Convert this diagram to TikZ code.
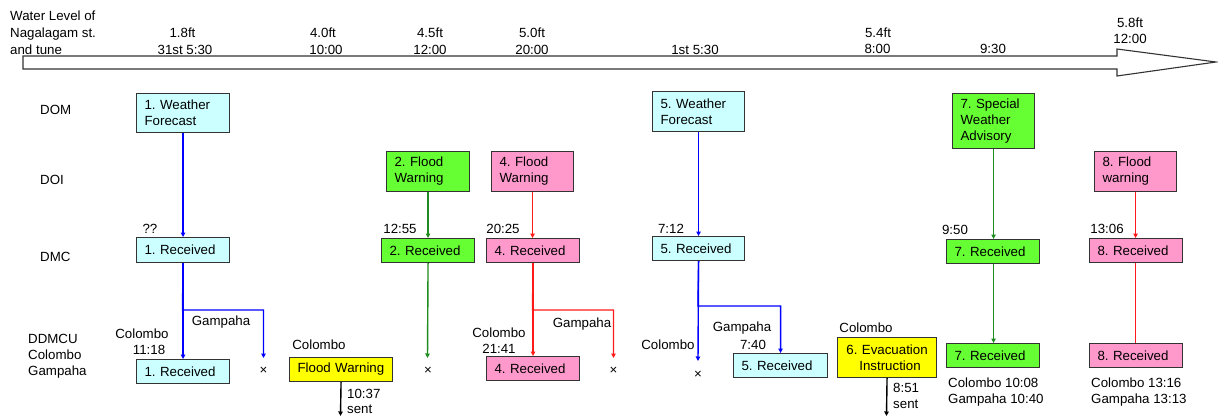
\documentclass[tikz,border=0pt]{standalone}
\usepackage{fontspec}
\setmainfont{Liberation Sans}
\usetikzlibrary{arrows.meta}
\definecolor{cyanbox}{HTML}{CCFFFF}
\definecolor{greenbox}{HTML}{66FF33}
\definecolor{pinkbox}{HTML}{FF99CC}
\definecolor{yellowbox}{HTML}{FFFF00}
\definecolor{lineblue}{HTML}{0000FF}
\definecolor{linegreen}{HTML}{1E8C1E}
\definecolor{linered}{HTML}{FF1A1A}
\definecolor{frame}{HTML}{333333}
\frenchspacing
\begin{document}
\begin{tikzpicture}[x=1pt,y=-1pt,
  every node/.style={font=\fontsize{13.3}{16}\selectfont\frenchspacing, inner sep=0pt},
  lbl/.style={anchor=base},
  lblw/.style={anchor=base west},
  box/.style={draw=frame, line width=1.1pt, anchor=north west,
              inner xsep=8pt, inner ysep=2pt, align=left},
  cy/.style={box, fill=cyanbox},
  gr/.style={box, fill=greenbox},
  pk/.style={box, fill=pinkbox},
  yl/.style={box, fill=yellowbox},
  tip/.style={-{Triangle[length=4.5pt,width=4.5pt]}},
  flow/.style={line width=1.4pt},
  bflow/.style={flow, draw=lineblue, tip},
  gflow/.style={flow, draw=linegreen, tip},
  rflow/.style={flow, draw=linered, tip},
  kflow/.style={flow, draw=black, tip},
  cross/.style={anchor=center},
]
\useasboundingbox (0,0) rectangle (1218,417);

% time axis
\draw[draw=frame, line width=1.1pt, fill=white]
  (23,56) -- (1117,56) -- (1117,49) -- (1216,62) -- (1117,76) -- (1117,69) -- (23,69) -- cycle;

\node[lblw] (h1) at (10,21) {Water Level of};
\node[lblw] (h2) at (10,38) {Nagalagam st.};
\node[lblw] (h3) at (10,55) {and tune};

\node[lbl] (t1a) at (182.5,38) {1.8ft};
\node[lbl] (t1b) at (185,55) {31st 5:30};
\node[lbl] (t2a) at (323,38) {4.0ft};
\node[lbl] (t2b) at (326,55) {10:00};
\node[lbl] (t3a) at (430,38) {4.5ft};
\node[lbl] (t3b) at (430,55) {12:00};
\node[lbl] (t4a) at (532,38) {5.0ft};
\node[lbl] (t4b) at (532,55) {20:00};
\node[lbl] (t5b) at (695,55) {1st 5:30};
\node[lbl] (t6a) at (878,38) {5.4ft};
\node[lbl] (t6b) at (877.5,54) {8:00};
\node[lbl] (t7b) at (993,54) {9:30};
\node[lbl] (t8a) at (1130,28) {5.8ft};
\node[lbl] (t8b) at (1130,44) {12:00};

% row captions
\node[lblw] (dom) at (40,115) {DOM};
\node[lblw] (doi) at (40,184) {DOI};
\node[lblw] (dmc) at (40,261) {DMC};
\node[lblw] (dd1) at (28,343) {DDMCU};
\node[lblw] (dd2) at (28,359) {Colombo};
\node[lblw] (dd3) at (28,375) {Gampaha};

% boxes
\node[cy, text width=77, minimum height=39] (wf1) at (136,93) {1. Weather\\Forecast};
\node[cy, text width=77, minimum height=25] (r1) at (136,237) {1. Received};
\node[cy, text width=77, minimum height=24] (rr1) at (136,359) {1. Received};
\node[yl, text width=87, minimum height=24] (fw) at (289,357) {Flood Warning};
\node[gr, text width=67, minimum height=40] (fw2) at (386,151) {2. Flood\\Warning};
\node[gr, text width=77, minimum height=24] (r2) at (381,238) {2. Received};
\node[pk, text width=66, minimum height=40] (fw4) at (491,151) {4. Flood\\Warning};
\node[pk, text width=77, minimum height=24] (r4) at (486,238) {4. Received};
\node[pk, text width=77, minimum height=24] (rr4) at (486,356) {4. Received};
\node[cy, text width=76, minimum height=40] (wf5) at (652,91) {5. Weather\\Forecast};
\node[cy, text width=76, minimum height=24] (r5) at (652,236) {5. Received};
\node[cy, text width=78, minimum height=24] (rr5) at (733,353) {5. Received};
\node[yl, inner xsep=3pt, text width=93, minimum height=40, align=center] (ev6) at (837,337) {6. Evacuation\\\hspace*{6pt}Instruction};
\node[gr, text width=66, minimum height=55] (sa7) at (952,93) {7. Special\\Weather\\Advisory};
\node[gr, text width=77, minimum height=24] (r7) at (946,239) {7. Received};
\node[gr, text width=77, minimum height=24] (rr7) at (946,343) {7. Received};
\node[pk, text width=66, minimum height=40] (fw8) at (1094,151) {8. Flood\\warning};
\node[pk, text width=77, minimum height=24] (r8) at (1089,238) {8. Received};
\node[pk, text width=77, minimum height=24] (rr8) at (1089,343) {8. Received};

% reception times at DMC
\node[lbl] (q1) at (150,233) {??};
\node[lbl] (q2) at (400,233) {12:55};
\node[lbl] (q4) at (503,233) {20:25};
\node[lbl] (q5) at (671,233) {7:12};
\node[lbl] (q7) at (955,234) {9:50};
\node[lbl] (q8) at (1107,233) {13:06};

% district labels
\node[lbl] (c1) at (142,338) {Colombo};
\node[lbl] (c1t) at (149,354) {11:18};
\node[lbl] (g1l) at (221,325) {Gampaha};
\node[lbl] (cfw) at (319,349) {Colombo};
\node[lblw] (s1a) at (347,398) {10:37};
\node[lblw] (s1b) at (347,413) {sent};
\node[lbl] (g4l) at (582,327) {Gampaha};
\node[lbl] (c4) at (499,337) {Colombo};
\node[lbl] (c4t) at (499,353) {21:41};
\node[lbl] (c5) at (668,349) {Colombo};
\node[lbl] (g5l) at (742,331) {Gampaha};
\node[lbl] (g5t) at (753,349) {7:40};
\node[lbl] (c6) at (866,332) {Colombo};
\node[lblw] (s6a) at (893,392) {8:51};
\node[lblw] (s6b) at (893,408) {sent};
\node[lblw] (c7a) at (948,387) {Colombo 10:08};
\node[lblw] (c7b) at (948,403) {Gampaha 10:40};
\node[lblw] (c8a) at (1091,387) {Colombo 13:16};
\node[lblw] (c8b) at (1091,403) {Gampaha 13:13};

% not received
\node[cross] (x1) at (263.5,371) {×};
\node[cross] (x2) at (428,371) {×};
\node[cross] (x4) at (613.5,371) {×};
\node[cross] (x5) at (698,375) {×};

% branch points and free ends
\coordinate (b1) at (182.5,310);
\coordinate (e1) at (263.5,358);
\coordinate (e2) at (427.5,358);
\coordinate (b4) at (532.5,310);
\coordinate (e4) at (613.5,358);
\coordinate (b5) at (698,306);
\coordinate (e5) at (698,361);
\coordinate (s1) at (340.5,416);
\coordinate (s6) at (886.5,416);

% connectors
\draw[bflow] (wf1) -- (r1);
\draw[bflow] (r1) -- (rr1);
\draw[bflow] (r1.south) -- (b1) -| (e1);

\draw[gflow] (fw2) -- (r2.north -| fw2.south);
\draw[gflow] (r2.south -| fw2.south) -- (e2);

\draw[rflow] (fw4.south) -- (r4.north -| fw4.south);
\draw[rflow] (r4) -- (rr4);
\draw[rflow] (r4.south) -- (b4) -| (e4);

\draw[bflow] (wf5) -- (r5);
\draw[bflow] (r5.south) -- (e5);
\draw[bflow] (r5.south) -- (b5) -| (rr5.north);

\draw[kflow] (fw.south) -- (s1);
\draw[kflow] (ev6.south) -- (s6);

\draw[gflow] (sa7.south) -- (r7.north -| sa7.south);
\draw[gflow] (r7.south -| sa7.south) -- (rr7.north -| sa7.south);

\draw[rflow] (fw8.south) -- (r8.north -| fw8.south);
\draw[flow, draw=linered] (r8.south -| fw8.south) -- (rr8.north -| fw8.south);
\end{tikzpicture}
\end{document}
